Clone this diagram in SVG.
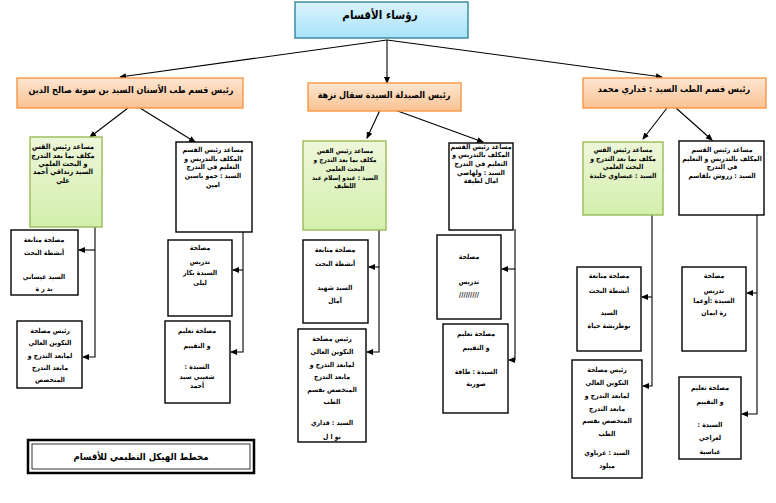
<svg xmlns="http://www.w3.org/2000/svg" width="776" height="503" viewBox="0 0 776 503">
<defs>
<linearGradient id="gBlue" x1="0" y1="0" x2="0" y2="1"><stop offset="0" stop-color="#dbf3fc"/><stop offset="1" stop-color="#a6e3fa"/></linearGradient>
<linearGradient id="gOrange" x1="0" y1="0" x2="0" y2="1"><stop offset="0" stop-color="#fde6d2"/><stop offset="1" stop-color="#fac291"/></linearGradient>
<linearGradient id="gGreen" x1="0" y1="0" x2="0" y2="1"><stop offset="0" stop-color="#eef7da"/><stop offset="1" stop-color="#d3efac"/></linearGradient>
<marker id="arr" markerUnits="userSpaceOnUse" markerWidth="7" markerHeight="6" refX="6" refY="3" orient="auto"><path d="M0,0 L7,3 L0,6 Z" fill="#000"/></marker>
</defs>
<style>
text{font-family:"DejaVu Sans Condensed","DejaVu Sans",sans-serif;font-weight:bold;fill:#000;text-anchor:middle;direction:rtl}
.t{font-size:11.5px}
.h{font-size:9px}
.lg{font-size:9.5px}
.s{font-size:6.8px}
.b{font-size:7.2px}
.m{font-size:6.5px}
.box{fill:#fff;stroke:#000;stroke-width:1.4}
.grn{fill:url(#gGreen);stroke:#9bbb59;stroke-width:1.4}
.org{fill:url(#gOrange);stroke:#f79646;stroke-width:1.4}
.conn path{fill:none;stroke:#000;stroke-width:1.1}
</style>
<rect width="776" height="503" fill="#fff"/>

<g class="conn">
<path d="M387,40 L120,77" marker-end="url(#arr)"/>
<path d="M387,40 L387,83" marker-end="url(#arr)"/>
<path d="M387,40 L662,77" marker-end="url(#arr)"/>
<path d="M128,108 L90,137" marker-end="url(#arr)"/>
<path d="M140,108 L195,142" marker-end="url(#arr)"/>
<path d="M380,110 L367,138" marker-end="url(#arr)"/>
<path d="M395,110 L483,142" marker-end="url(#arr)"/>
<path d="M667,108 L643,139" marker-end="url(#arr)"/>
<path d="M676,108 L712,140" marker-end="url(#arr)"/>
<path d="M95,227 V357 H83" marker-end="url(#arr)"/>
<path d="M95,250 H79" marker-end="url(#arr)"/>
<path d="M243,232 V352 H231" marker-end="url(#arr)"/>
<path d="M243,270 H233" marker-end="url(#arr)"/>
<path d="M379,230 V352 H367" marker-end="url(#arr)"/>
<path d="M379,267 H369" marker-end="url(#arr)"/>
<path d="M515,229 V360 H509" marker-end="url(#arr)"/>
<path d="M515,269 H502" marker-end="url(#arr)"/>
<path d="M652,215 V386 H643" marker-end="url(#arr)"/>
<path d="M652,297 H642" marker-end="url(#arr)"/>
<path d="M757,215 V414 H742" marker-end="url(#arr)"/>
<path d="M757,293 H747" marker-end="url(#arr)"/>
</g>

<g id="title">
<rect x="295" y="2" width="173" height="36" fill="url(#gBlue)" stroke="#31859c" stroke-width="1.4"/>
<text class="t" x="380" y="19">رؤساء الأقسام</text>
</g>

<g id="head-dent">
<rect class="org" x="17" y="78" width="226" height="30"/>
<text class="h" x="131" y="93">رئيس قسم طب الأسنان السيد بن سونة صالح الدين</text>
</g>
<g id="head-phar">
<rect class="org" x="308" y="83" width="153" height="28"/>
<text class="h" x="384" y="98">رئيس الصيدلة السيدة سقال نزهة</text>
</g>
<g id="head-med">
<rect class="org" x="583" y="78" width="183" height="30"/>
<text class="h" x="674" y="92">رئيس قسم الطب السيد : قداري محمد</text>
</g>

<g id="dent-pg">
<rect class="grn" x="30" y="137" width="72" height="90"/>
<text class="b" x="63" y="149">مساعد رئيس القس</text>
<text class="b" x="63" y="158">مكلف بما بعد التدرج</text>
<text class="b" x="63" y="166">و البحث العلمي</text>
<text class="b" x="63" y="174">السيد زنداقي أحمد</text>
<text class="b" x="63" y="183">علي</text>
</g>
<g id="dent-ug">
<rect class="box" x="176" y="142" width="76" height="90"/>
<text class="s" x="213" y="152">مساعد رئيس القسم</text>
<text class="s" x="213" y="161">المكلف بالتدريس و</text>
<text class="s" x="213" y="169">التعليم في التدرج</text>
<text class="s" x="213" y="178">السيد : حمو ياسين</text>
<text class="s" x="213" y="187">امين</text>
</g>
<g id="phar-pg">
<rect class="grn" x="303" y="141" width="83" height="89"/>
<text class="m" x="345" y="153">مساعد رئيس القس</text>
<text class="m" x="345" y="162">مكلف بما بعد التدرج و</text>
<text class="m" x="345" y="171">البحث العلمي</text>
<text class="m" x="345" y="180">السيد : عبدو إسلام عبد</text>
<text class="m" x="345" y="188">اللطيف</text>
</g>
<g id="phar-ug">
<rect class="box" x="449" y="143" width="64" height="87"/>
<text class="s" x="481" y="149">مساعد رئيس القسم</text>
<text class="s" x="481" y="157">المكلف بالتدريس و</text>
<text class="s" x="481" y="166">التعليم في التدرج</text>
<text class="s" x="481" y="175">السيد : ولهاصي</text>
<text class="s" x="481" y="183">امال لطيفة</text>
</g>
<g id="med-pg">
<rect class="grn" x="583" y="142" width="80" height="73"/>
<text class="s" x="623" y="152">مساعد رئيس القس</text>
<text class="s" x="623" y="161">مكلف بما بعد التدرج و</text>
<text class="s" x="623" y="169">البحث العلمي</text>
<text class="s" x="623" y="178">السيد : عيساوي خليدة</text>
</g>
<g id="med-ug">
<rect class="box" x="679" y="141" width="85" height="74"/>
<text class="s" x="722" y="152">مساعد رئيس القسم</text>
<text class="s" x="722" y="161">المكلف بالتدريس و التعليم</text>
<text class="s" x="722" y="169">في التدرج</text>
<text class="s" x="722" y="178">السيد : زروش بلقاسم</text>
</g>

<g id="dent-res">
<rect class="box" x="11" y="230" width="67" height="65"/>
<text class="s" x="44" y="242">مصلحة متابعة</text>
<text class="s" x="44" y="255">أنشطة البحث</text>
<text class="s" x="44" y="279">السيد عيساني</text>
<text class="s" x="44" y="291">بد ر ة</text>
</g>
<g id="dent-pgt">
<rect class="box" x="17" y="321" width="65" height="67"/>
<text class="s" x="50" y="333">رئيس مصلحة</text>
<text class="s" x="50" y="345">التكوين العالي</text>
<text class="s" x="50" y="358">لمابعد التدرج و</text>
<text class="s" x="50" y="370">مابعد التدرج</text>
<text class="s" x="50" y="382">المتخصص</text>
</g>
<g id="dent-teach">
<rect class="box" x="168" y="240" width="64" height="76"/>
<text class="s" x="200" y="250">مصلحة</text>
<text class="s" x="200" y="264">تدريس</text>
<text class="s" x="200" y="275">السيدة بكار</text>
<text class="s" x="200" y="285">ليلى</text>
</g>
<g id="dent-eval">
<rect class="box" x="165" y="321" width="65" height="82"/>
<text class="s" x="197" y="333">مصلحة تعليم</text>
<text class="s" x="197" y="348">و التقييم</text>
<text class="s" x="197" y="369">السيدة :</text>
<text class="s" x="197" y="379">شعيبي سيد</text>
<text class="s" x="197" y="388">أحمد</text>
</g>

<g id="phar-res">
<rect class="box" x="303" y="240" width="65" height="83"/>
<text class="s" x="335" y="252">مصلحة متابعة</text>
<text class="s" x="335" y="266">أنشطة البحث</text>
<text class="s" x="335" y="290">السيد شهيد</text>
<text class="s" x="335" y="303">آمال</text>
</g>
<g id="phar-pgt">
<rect class="box" x="298" y="329" width="68" height="113"/>
<text class="s" x="332" y="341">رئيس مصلحة</text>
<text class="s" x="332" y="354">التكوين العالي</text>
<text class="s" x="332" y="367">لمابعد التدرج و</text>
<text class="s" x="332" y="379">مابعد التدرج</text>
<text class="s" x="332" y="392">المتخصص بقسم</text>
<text class="s" x="332" y="404">الطب</text>
<text class="s" x="332" y="425">السيد : قداري</text>
<text class="s" x="332" y="439">نو ا ل</text>
</g>
<g id="phar-teach">
<rect class="box" x="437" y="235" width="64" height="84"/>
<text class="s" x="469" y="259">مصلحة</text>
<text class="s" x="469" y="284">تدريس</text>
<text class="s" x="469" y="297">/////////</text>
</g>
<g id="phar-eval">
<rect class="box" x="443" y="324" width="65" height="89"/>
<text class="s" x="476" y="336">مصلحة تعليم</text>
<text class="s" x="476" y="350">و التقييم</text>
<text class="s" x="476" y="374">السيدة : طافة</text>
<text class="s" x="476" y="386">صورية</text>
</g>

<g id="med-res">
<rect class="box" x="577" y="267" width="64" height="84"/>
<text class="s" x="609" y="278">مصلحة متابعة</text>
<text class="s" x="609" y="293">أنشطة البحث</text>
<text class="s" x="609" y="315">السيد</text>
<text class="s" x="609" y="328">بوطريشة حياة</text>
</g>
<g id="med-pgt">
<rect class="box" x="572" y="360" width="70" height="118"/>
<text class="s" x="607" y="372">رئيس مصلحة</text>
<text class="s" x="607" y="385">التكوين العالي</text>
<text class="s" x="607" y="398">لمابعد التدرج و</text>
<text class="s" x="607" y="411">مابعد التدرج</text>
<text class="s" x="607" y="423">المتخصص بقسم</text>
<text class="s" x="607" y="436">الطب</text>
<text class="s" x="607" y="455">السيد : عرباوي</text>
<text class="s" x="607" y="468">ميلود</text>
</g>
<g id="med-teach">
<rect class="box" x="682" y="267" width="64" height="84"/>
<text class="s" x="714" y="278">مصلحة</text>
<text class="s" x="714" y="293">تدريس</text>
<text class="s" x="714" y="303">السيدة :أوعما</text>
<text class="s" x="714" y="315">رة ايمان</text>
</g>
<g id="med-eval">
<rect class="box" x="679" y="377" width="62" height="82"/>
<text class="s" x="710" y="390">مصلحة تعليم</text>
<text class="s" x="710" y="404">و التقييم</text>
<text class="s" x="710" y="427">السيدة :</text>
<text class="s" x="710" y="440">لعراجي</text>
<text class="s" x="710" y="454">عباسية</text>
</g>

<g id="legend">
<rect x="28" y="440" width="226" height="33" fill="#fff" stroke="#000" stroke-width="2.5"/>
<rect x="32" y="444" width="218" height="25" fill="none" stroke="#000" stroke-width="0.8"/>
<text class="lg" x="141" y="460">مخطط الهيكل التظيمي للأقسام</text>
</g>
</svg>
